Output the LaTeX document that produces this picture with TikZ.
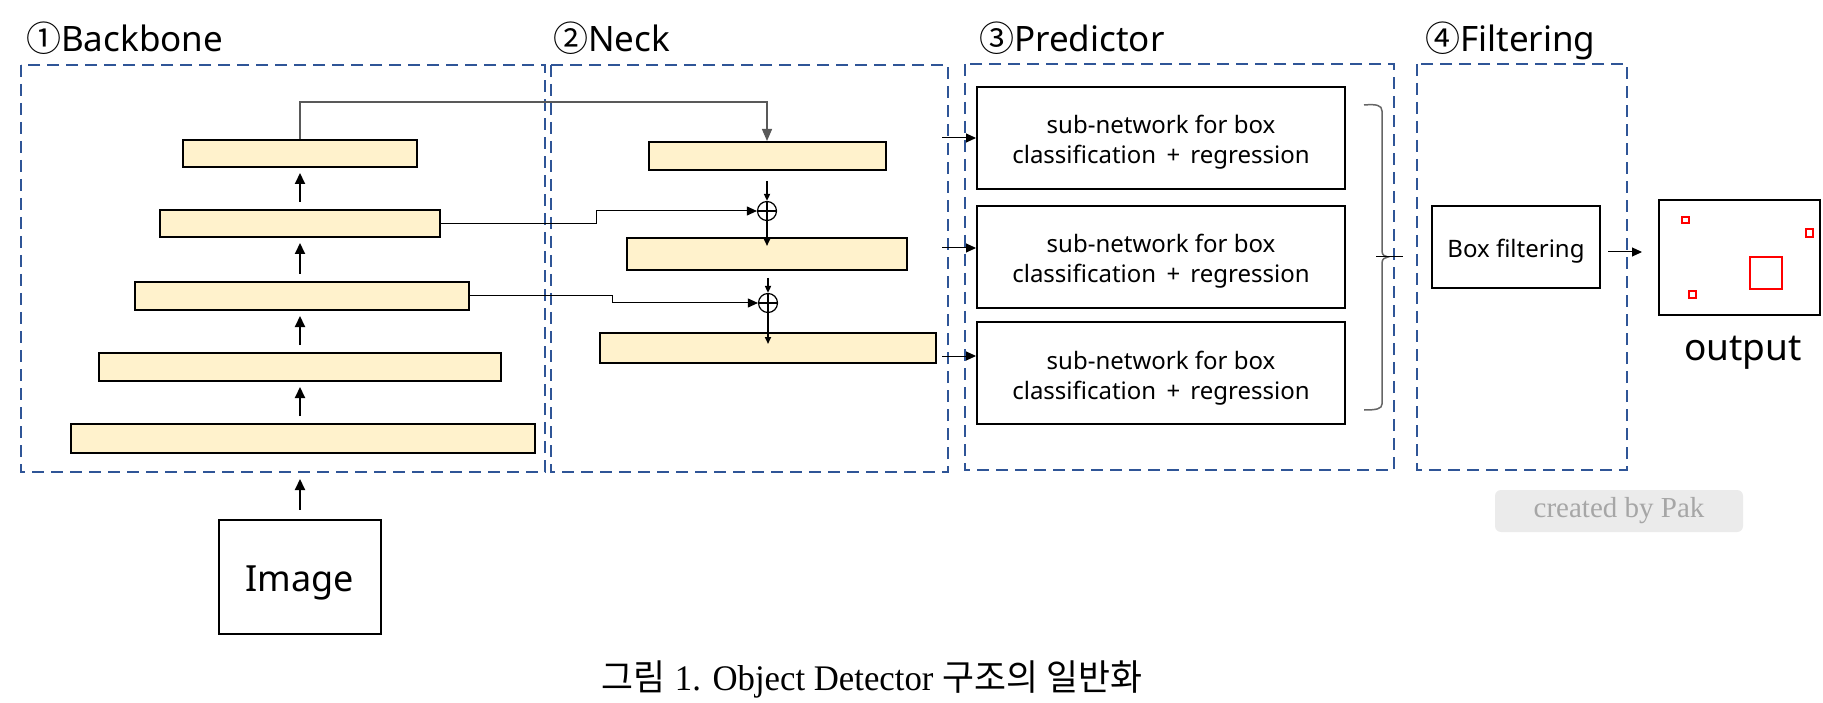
\documentclass[tikz,border=0pt]{standalone}
\usepackage{fontspec}
\setmainfont{Noto Sans}
\newfontfamily\cjkfont{Noto Sans CJK KR}
\newfontfamily\capserif{Liberation Serif}
\usetikzlibrary{arrows.meta,calc}
\definecolor{grpblue}{HTML}{2F5597}
\definecolor{baryellow}{HTML}{FFF2CC}
\definecolor{paktext}{HTML}{A6A6A6}
\definecolor{pakfill}{HTML}{EBEBEB}
\newcommand\fsz[2]{\fontsize{#1}{#2}\selectfont}
\newcommand\lowered[2]{\raisebox{-#1}[\height][\depth]{#2}}
\newcommand\predlabel{\lowered{5pt}{\begin{tabular}{@{}c@{}}sub-network for box\\classification \,+\, regression\end{tabular}}}
\tikzset{
  grp/.style={draw=grpblue, line width=2pt, dash pattern=on 12pt off 7pt},
  bar/.style={draw=black, line width=2pt, fill=baryellow, inner sep=0pt},
  blk/.style={draw=black, line width=2pt, inner sep=0pt, align=center},
  title/.style={anchor=base west, inner sep=0pt, font=\fsz{35}{40}},
  upar/.style={-{Triangle[length=11pt,width=10pt]}, line width=2pt},
  smallar/.style={-{Triangle[length=7pt,width=6pt]}, line width=1.6pt},
  thinar/.style={-{Triangle[length=10pt,width=9pt]}, line width=1pt},
  topar/.style={-{Triangle[length=12pt,width=10pt]}, line width=1.3pt, draw=black!65},
  oplus/.style={circle, draw, line width=1.2pt, minimum size=19pt, inner sep=0pt,
    path picture={\draw[line width=1.2pt] (path picture bounding box.north) -- (path picture bounding box.south)
      (path picture bounding box.west) -- (path picture bounding box.east);}},
  predtxt/.style={font=\fsz{24}{30}},
  redsq/.style={draw=red, line width=2pt},
  bracestyle/.style={draw=black!60, line width=1.5pt},
}
\begin{document}
\begin{tikzpicture}[x=1pt,y=-1pt]
\fill[white] (0,0) rectangle (1823,703);
\useasboundingbox (0,0) rectangle (1823,703);

% group frames
\draw[grp] (21,65) rectangle (545,472);
\draw[grp] (551,65) rectangle (948,472);
\draw[grp] (965,64) rectangle (1394,470);
\draw[grp] (1417,64) rectangle (1627,470);

% titles
\node[title] (t1) at (26,52) {{\cjkfont ①}Backbone};
\node[title] (t2) at (553,52) {{\cjkfont ②}Neck};
\node[title] (t3) at (979,52) {{\cjkfont ③}Predictor};
\node[title] (t4) at (1425,52) {{\cjkfont ④}Filtering};

% backbone bars
\node[bar, minimum width=234pt, minimum height=27pt] (b1) at (300,153.5) {};
\node[bar, minimum width=280pt, minimum height=27pt] (b2) at (300,223.5) {};
\node[bar, minimum width=334pt, minimum height=28pt] (b3) at (302,296) {};
\node[bar, minimum width=402pt, minimum height=28pt] (b4) at (300,367) {};
\node[bar, minimum width=464pt, minimum height=29pt] (b5) at (303,438.5) {};

\draw[upar] ($(b5.north -| 300,0)+(0,-7)$) -- ($(b4.south -| 300,0)+(0,5)$);
\draw[upar] ($(b4.north -| 300,0)+(0,-7)$) -- ($(b3.south -| 300,0)+(0,5)$);
\draw[upar] ($(b3.north -| 300,0)+(0,-7)$) -- ($(b2.south -| 300,0)+(0,5)$);
\draw[upar] ($(b2.north -| 300,0)+(0,-7)$) -- ($(b1.south -| 300,0)+(0,5)$);

% image input
\node[blk, minimum width=162pt, minimum height=114pt, font=\fsz{36}{40}] (img) at (300,576.5) {\lowered{6pt}{Image}};
\coordinate (bbin) at (300,479);
\draw[upar] ($(img.north)+(0,-9)$) -- (bbin);

% neck
\node[bar, minimum width=237pt, minimum height=28pt] (n1) at (767,156) {};
\node[oplus] (c1) at (767,211) {};
\node[bar, minimum width=280pt, minimum height=32pt] (n2) at (767,254) {};
\node[oplus] (c2) at (768,303) {};
\node[bar, minimum width=336pt, minimum height=30pt] (n3) at (768,348) {};

\draw[smallar] ($(n1.south)+(0,10)$) -- (c1.north);
\draw[smallar] (c1.south) -- ($(n2.north)+(0,9)$);
\draw[smallar] ($(n2.south -| c2)+(0,7)$) -- (c2.north);
\draw[smallar] (c2.south) -- ($(n3.north)+(0,12)$);

% lateral connections
\draw[topar] (b1.north) -- ++(0,-37) -| (n1.north);
\coordinate (k1) at (596,211);
\coordinate (k2) at (612,303);
\draw[thinar] (b2.east) -| (k1) -- (c1.west);
\draw[thinar] (b3.east) -| (k2) -- (c2.west);

% predictor
\node[blk, minimum width=368pt, minimum height=102pt, predtxt] (p1) at (1161,138) {\predlabel};
\node[blk, minimum width=368pt, minimum height=102pt, predtxt] (p2) at (1161,257) {\predlabel};
\node[blk, minimum width=368pt, minimum height=102pt, predtxt] (p3) at (1161,373) {\predlabel};
\coordinate (pin1) at (942,138);
\coordinate (pin2) at (942,248);
\coordinate (pin3) at (942,356);
\draw[thinar] (pin1) -- (pin1 -| p1.west);
\draw[thinar] (pin2) -- (pin2 -| p2.west);
\draw[thinar] (pin3) -- (pin3 -| p3.west);

% brace
\coordinate (btip) at (1388,257);
\coordinate (bout) at (1403,257);
\draw[bracestyle] (1364,105) .. controls (1376,104) and (1382,105) .. (1382,111)
  -- (1382,251) .. controls (1382,255) and (1385,257) .. (btip)
  .. controls (1385,257) and (1382,259) .. (1382,263)
  -- (1382,404) .. controls (1382,409) and (1376,410) .. (1364,410);
\draw[line width=1pt] (1376,257) -- (bout);

% filtering
\node[blk, minimum width=168pt, minimum height=82pt, font=\fsz{24}{28}] (bf) at (1516,247) {\lowered{4pt}{Box filtering}};
\coordinate (fout) at (1642,252);
\draw[thinar] (bf.east |- fout) ++(7,0) -- (fout);

% output
\node[blk, minimum width=161pt, minimum height=115pt] (out) at (1739.5,257.5) {};
\draw[redsq] (1682,217) rectangle (1689,223);
\draw[redsq] (1806,229) rectangle (1813,237);
\draw[redsq] (1689,291) rectangle (1696,298);
\draw[redsq] (1750,257) rectangle (1782,289);
\node[anchor=base, inner sep=0pt, font=\fsz{37}{40}] (outlbl) at (1743,360) {output};

% watermark
\node[fill=pakfill, rounded corners=6pt, minimum width=248pt, minimum height=42pt, inner sep=0pt,
  text=paktext, font=\capserif\fsz{29}{30}] (pak) at (1619,511) {created by Pak};

% caption
\node[anchor=base, inner sep=0pt] (cap) at (872,690) {\scalebox{0.965}[1]{\fsz{36}{40}{\cjkfont 그림} {\capserif 1. Object Detector} {\cjkfont 구조의 일반화}}};
\end{tikzpicture}
\end{document}
